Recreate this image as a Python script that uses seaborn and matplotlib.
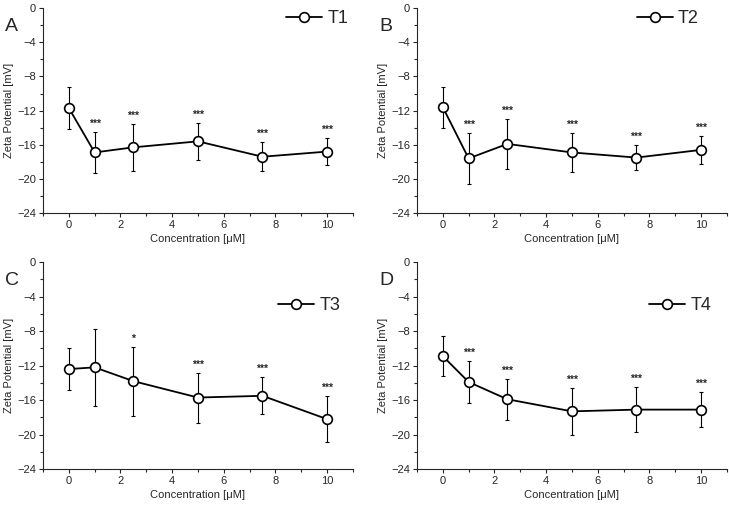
import matplotlib
matplotlib.use("Agg")
import matplotlib.pyplot as plt
from matplotlib.ticker import MultipleLocator
import seaborn as sns
import pandas as pd

# Data (mean +/- sd), concentration in uM
conc = [0, 1, 2.5, 5, 7.5, 10]

t1_mean = [-11.7, -16.9, -16.3, -15.6, -17.4, -16.8]
t1_sd = [2.5, 2.4, 2.75, 2.15, 1.7, 1.6]
t1_sig = ["", "***", "***", "***", "***", "***"]

t2_mean = [-11.6, -17.6, -15.9, -16.9, -17.5, -16.6]
t2_sd = [2.4, 3.0, 2.9, 2.3, 1.5, 1.6]
t2_sig = ["", "***", "***", "***", "***", "***"]

t3_mean = [-12.4, -12.2, -13.8, -15.7, -15.5, -18.2]
t3_sd = [2.45, 4.5, 4.0, 2.9, 2.15, 2.65]
t3_sig = ["", "", "*", "***", "***", "***"]

t4_mean = [-10.9, -13.9, -15.9, -17.3, -17.1, -17.1]
t4_sd = [2.3, 2.45, 2.4, 2.7, 2.6, 2.05]
t4_sig = ["", "***", "***", "***", "***", "***"]

sns.set_style("ticks")
plt.rcParams['font.family'] = ['Liberation Sans', 'DejaVu Sans']

fig = plt.figure(figsize=(7.29, 5.05), dpi=100)

panels = [
    ("A", "T1", t1_mean, t1_sd, t1_sig, [0.059, 0.578, 0.425, 0.406], (0.985, 0.95)),
    ("B", "T2", t2_mean, t2_sd, t2_sig, [0.572, 0.578, 0.425, 0.406], (0.91, 0.95)),
    ("C", "T3", t3_mean, t3_sd, t3_sig, [0.059, 0.071, 0.425, 0.410], (0.96, 0.79)),
    ("D", "T4", t4_mean, t4_sd, t4_sig, [0.572, 0.071, 0.425, 0.410], (0.95, 0.79)),
]

for letter, name, mean, sd, sig, rect, leg_pos in panels:
    ax = fig.add_axes(rect)
    df = pd.DataFrame({"conc": conc, "zeta": mean})

    ax.errorbar(conc, mean, yerr=sd, fmt="none", ecolor="black",
                elinewidth=0.8, capsize=1.5, capthick=0.8, zorder=2)
    sns.lineplot(data=df, x="conc", y="zeta", ax=ax, color="black",
                 linewidth=1.3, marker="o", markersize=7,
                 markerfacecolor="white", markeredgecolor="black",
                 markeredgewidth=1.2, label=name, zorder=3)

    # significance stars above the error bars
    for x, m, s, star in zip(conc, mean, sd, sig):
        if star:
            ax.text(x, m + s + 0.35, star, ha="center", va="bottom",
                    fontsize=7.5, fontweight="bold")

    ax.set_xlim(-1, 11)
    ax.set_ylim(-24, 0)
    ax.xaxis.set_major_locator(MultipleLocator(2))
    ax.xaxis.set_minor_locator(MultipleLocator(1))
    ax.yaxis.set_major_locator(MultipleLocator(4))
    ax.yaxis.set_minor_locator(MultipleLocator(2))
    ax.tick_params(which="major", direction="out", length=3, width=0.8, labelsize=8, pad=2)
    ax.tick_params(which="minor", direction="out", length=2, width=0.8)
    for sp in ["left", "bottom"]:
        ax.spines[sp].set_linewidth(0.8)
    sns.despine(ax=ax)

    ax.set_xlabel("Concentration [\u03bcM]", fontsize=8, labelpad=3)
    ax.set_ylabel("Zeta Potential [mV]", fontsize=8, labelpad=2)

    ax.legend(loc="center right", bbox_to_anchor=leg_pos, frameon=False,
              fontsize=13, handlelength=2.0, handletextpad=0.3,
              borderpad=0, borderaxespad=0)

    fig.text(rect[0] - 0.052, rect[1] + rect[3] - 0.02, letter,
             fontsize=14, ha="left", va="top")

fig.savefig("out.png", dpi=100)
